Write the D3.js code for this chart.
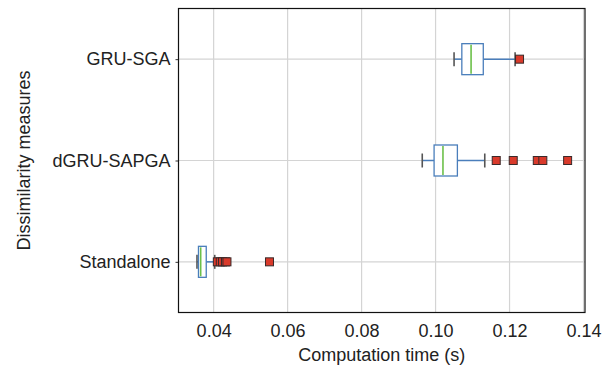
<!DOCTYPE html>
<html>
<head>
<meta charset="utf-8">
<script src="https://cdn.jsdelivr.net/npm/d3@7"></script>
<style>
  body { margin: 0; background: #fff; }
  text { font-family: "Liberation Sans", Arial, sans-serif; fill: #222; }
</style>
</head>
<body>
<div id="chart"></div>
<script>
// chart size and plot frame
const width = 608;
const height = 368;
const margin = {left: 178.5, right: 23, bottom: 55.5, top: 8.5};

// categories, bottom to top
const methods = ["Standalone", "dGRU-SAPGA", "GRU-SGA"];

// box statistics: [low whisker, q1, median, q3, high whisker]
const whiskerLow = [0.0355, 0.0964, 0.1050];
const q1 = [0.0359, 0.0996, 0.1071];
const median = [0.0365, 0.1020, 0.1096];
const q3 = [0.0380, 0.1059, 0.1129];
const whiskerHigh = [0.0403, 0.1133, 0.1215];

// outliers per category
const outliers = [
  [0.0410, 0.0418, 0.0424, 0.0432, 0.0436, 0.0551],
  [0.1164, 0.1210, 0.1275, 0.1290, 0.1357],
  [0.1227]
];

const xTicks = [0.04, 0.06, 0.08, 0.10, 0.12, 0.14];

const svg = d3.select("#chart")
  .append("svg")
  .attr("width", width)
  .attr("height", height);

// scales
let xScale = d3.scaleLinear()
  .domain([0.0305, 0.1404])
  .range([margin.left, width - margin.right]);

let yScale = d3.scaleLinear()
  .domain([-0.5, methods.length - 0.5])
  .range([height - margin.bottom, margin.top]);

// grid lines
svg.append("g")
  .selectAll("line")
  .data(xTicks)
  .enter()
  .append("line")
    .attr("x1", d => xScale(d))
    .attr("x2", d => xScale(d))
    .attr("y1", margin.top)
    .attr("y2", height - margin.bottom)
    .attr("stroke", "#d4d4d4")
    .attr("stroke-width", 1.2);

svg.append("g")
  .selectAll("line")
  .data(methods)
  .enter()
  .append("line")
    .attr("x1", margin.left)
    .attr("x2", width - margin.right)
    .attr("y1", (d, i) => yScale(i))
    .attr("y2", (d, i) => yScale(i))
    .attr("stroke", "#d4d4d4")
    .attr("stroke-width", 1.2);

// axes
svg.append("g")
  .attr("transform", `translate(0,${height - margin.bottom})`)
  .call(d3.axisBottom(xScale).tickValues(xTicks).tickFormat(d3.format(".2f")).tickSize(0).tickPadding(12))
  .call(g => g.select(".domain").remove())
  .attr("font-size", "18px");

svg.append("g")
  .attr("transform", `translate(${margin.left},0)`)
  .call(d3.axisLeft(yScale).tickValues(d3.range(methods.length)).tickFormat(i => methods[i]).tickSize(3).tickPadding(5))
  .call(g => g.select(".domain").remove())
  .attr("font-size", "18px");

svg.selectAll(".tick text").attr("fill", "#222");
svg.selectAll(".tick line").attr("stroke", "#333");

// boxes
const boxHalf = 15.5;
const capHalf = 7;
const groups = svg.selectAll(".box")
  .data(methods)
  .enter()
  .append("g")
    .attr("class", "box");

groups.append("line")
  .attr("x1", (d, i) => xScale(whiskerLow[i]))
  .attr("x2", (d, i) => xScale(q1[i]))
  .attr("y1", (d, i) => yScale(i))
  .attr("y2", (d, i) => yScale(i))
  .attr("stroke", "#4a7ebb").attr("stroke-width", 1.5);

groups.append("line")
  .attr("x1", (d, i) => xScale(q3[i]))
  .attr("x2", (d, i) => xScale(whiskerHigh[i]))
  .attr("y1", (d, i) => yScale(i))
  .attr("y2", (d, i) => yScale(i))
  .attr("stroke", "#4a7ebb").attr("stroke-width", 1.5);

groups.append("line")
  .attr("x1", (d, i) => xScale(whiskerLow[i]))
  .attr("x2", (d, i) => xScale(whiskerLow[i]))
  .attr("y1", (d, i) => yScale(i) - capHalf)
  .attr("y2", (d, i) => yScale(i) + capHalf)
  .attr("stroke", "#555").attr("stroke-width", 1.6);

groups.append("line")
  .attr("x1", (d, i) => xScale(whiskerHigh[i]))
  .attr("x2", (d, i) => xScale(whiskerHigh[i]))
  .attr("y1", (d, i) => yScale(i) - capHalf)
  .attr("y2", (d, i) => yScale(i) + capHalf)
  .attr("stroke", "#555").attr("stroke-width", 1.6);

groups.append("rect")
  .attr("x", (d, i) => xScale(q1[i]))
  .attr("y", (d, i) => yScale(i) - boxHalf)
  .attr("width", (d, i) => xScale(q3[i]) - xScale(q1[i]))
  .attr("height", boxHalf * 2)
  .attr("fill", "#fff")
  .attr("stroke", "#4a7ebb").attr("stroke-width", 1.3);

groups.append("line")
  .attr("x1", (d, i) => xScale(median[i]))
  .attr("x2", (d, i) => xScale(median[i]))
  .attr("y1", (d, i) => yScale(i) - boxHalf + 1)
  .attr("y2", (d, i) => yScale(i) + boxHalf - 1)
  .attr("stroke", "#6cc04a").attr("stroke-width", 1.6);

// outlier squares
const sq = 8;
groups.each(function(d, i) {
  d3.select(this).selectAll(".out")
    .data(outliers[i])
    .enter()
    .append("rect")
      .attr("class", "out")
      .attr("x", v => xScale(v) - sq / 2)
      .attr("y", yScale(i) - sq / 2)
      .attr("width", sq)
      .attr("height", sq)
      .attr("fill", "#d93a2b")
      .attr("stroke", "#3a2a2a")
      .attr("stroke-width", 1);
});

// frame
svg.append("rect")
  .attr("x", margin.left)
  .attr("y", margin.top)
  .attr("width", width - margin.left - margin.right)
  .attr("height", height - margin.top - margin.bottom)
  .attr("fill", "none")
  .attr("stroke", "#111")
  .attr("stroke-width", 1.2);

// axis titles
svg.append("text")
  .attr("x", (margin.left + width - margin.right) / 2)
  .attr("y", 361)
  .attr("text-anchor", "middle")
  .attr("font-size", "18px")
  .text("Computation time (s)");

svg.append("text")
  .attr("transform", `translate(30,${(margin.top + height - margin.bottom) / 2}) rotate(-90)`)
  .attr("text-anchor", "middle")
  .attr("font-size", "18px")
  .text("Dissimilarity measures");
</script>
</body>
</html>
